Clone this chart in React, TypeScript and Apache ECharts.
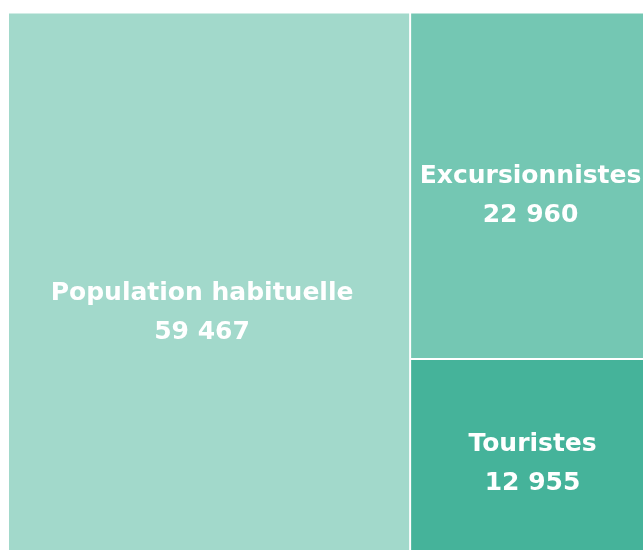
import React, { useEffect, useRef } from "react";
import * as echarts from "echarts";

const names = ["Population habituelle", "Excursionnistes", "Touristes"];
const values = [59467, 22960, 12955];
const colors = ["#a2d9cb", "#74c7b3", "#45b39a"];
const labelOffsetsX = [-7, -1, 1];
const labelOffsetsY = [27.5, 8.5, 5.5];

function fmt(v: number): string {
  return String(v).replace(/\B(?=(\d{3})+(?!\d))/g, " ");
}

export default function App() {
  const ref = useRef<HTMLDivElement>(null);
  useEffect(() => {
    if (!ref.current) return;
    document.documentElement.style.overflow = "hidden";
    document.body.style.overflow = "hidden";
    const chart = echarts.init(ref.current, undefined, { renderer: "svg" });
    chart.setOption({
      animation: false,
      series: [
        {
          type: "treemap",
          left: 9,
          top: 13.5,
          width: 643,
          height: 540,
          roam: false,
          nodeClick: false,
          breadcrumb: { show: false },
          squareRatio: 0.5 * (1 + Math.sqrt(5)),
          levels: [
            {
              itemStyle: { gapWidth: 2, borderWidth: 0, borderColor: "#ffffff" },
            },
          ],
          label: {
            show: true,
            position: "inside",
            align: "center",
            verticalAlign: "middle",
            color: "#ffffff",
            fontFamily: "DejaVu Sans",
            fontWeight: "bold",
            fontSize: 25,
            lineHeight: 39,
            formatter: (p: any) => `${p.name}\n${fmt(p.value)}`,
          },
          data: names.map((n, i) => ({
            name: n,
            value: values[i],
            itemStyle: { color: colors[i], borderWidth: 0 },
            label: { offset: [labelOffsetsX[i], labelOffsetsY[i]] },
          })),
        },
      ],
    });
    return () => chart.dispose();
  }, []);
  return (
    <div
      ref={ref}
      style={{ position: "fixed", left: 0, top: 0, width: 660, height: 570 }}
    />
  );
}
